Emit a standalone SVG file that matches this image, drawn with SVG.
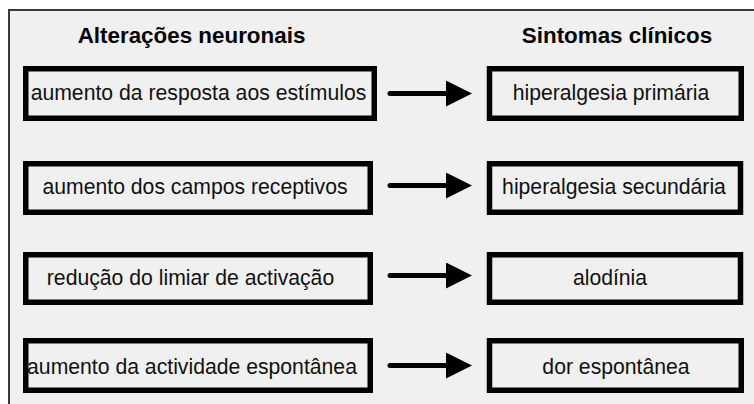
<svg xmlns="http://www.w3.org/2000/svg" width="754" height="404" viewBox="0 0 754 404">
<defs>
<style>
.box{fill:none;stroke:#000;stroke-width:5.5}
.t{font-family:"Liberation Sans",Arial,sans-serif;font-size:21.2px;fill:#111;text-anchor:middle}
.h{font-family:"Liberation Sans",Arial,sans-serif;font-size:22.4px;font-weight:bold;fill:#000;text-anchor:middle}
.arr{stroke:#000;stroke-width:5;stroke-linecap:round;fill:none}
</style>
<marker id="ah" markerUnits="userSpaceOnUse" markerWidth="27" markerHeight="26" refX="0" refY="13" orient="auto" viewBox="0 0 27 26">
<path d="M0,0 L26,13 L0,26 z" fill="#000"/>
</marker>
</defs>
<rect x="0" y="0" width="754" height="404" fill="#fff"/>
<rect x="9" y="10" width="745" height="394" fill="#f0f0f0"/>
<path d="M9,404 V10 H754" fill="none" stroke="#3a3a3a" stroke-width="2"/>
<g id="headers">
<text class="h" x="191.5" y="43">Alterações neuronais</text>
<text class="h" x="617" y="43">Sintomas clínicos</text>
</g>
<g id="n1"><rect class="box" x="25.75" y="68.75" width="348.5" height="49.5"/><text class="t" x="198.5" y="100">aumento da resposta aos estímulos</text></g>
<g id="n2"><rect class="box" x="25.75" y="163.75" width="344.5" height="48.5"/><text class="t" x="195" y="193.5">aumento dos campos receptivos</text></g>
<g id="n3"><rect class="box" x="25.75" y="254.75" width="344.5" height="47.5"/><text class="t" x="190.5" y="285">redução do limiar de activação</text></g>
<g id="n4"><rect class="box" x="25.75" y="340.75" width="344.5" height="49.5"/><text class="t" x="192" y="374">aumento da actividade espontânea</text></g>
<g id="s1"><rect class="box" x="489.5" y="68.75" width="251.75" height="49.5"/><text class="t" x="611" y="99.5">hiperalgesia primária</text></g>
<g id="s2"><rect class="box" x="489.5" y="163.75" width="251" height="48.5"/><text class="t" x="614" y="193.5">hiperalgesia secundária</text></g>
<g id="s3"><rect class="box" x="489.5" y="254.75" width="251" height="47.5"/><text class="t" x="610" y="285">alodínia</text></g>
<g id="s4"><rect class="box" x="489.5" y="340.75" width="251.75" height="49.5"/><text class="t" x="616" y="374">dor espontânea</text></g>
<g id="connectors">
<line class="arr" x1="390" y1="93.5" x2="446" y2="93.5" marker-end="url(#ah)"/>
<line class="arr" x1="390" y1="185.5" x2="446" y2="185.5" marker-end="url(#ah)"/>
<line class="arr" x1="390" y1="275.5" x2="446" y2="275.5" marker-end="url(#ah)"/>
<line class="arr" x1="390" y1="365.5" x2="446" y2="365.5" marker-end="url(#ah)"/>
</g>
</svg>
